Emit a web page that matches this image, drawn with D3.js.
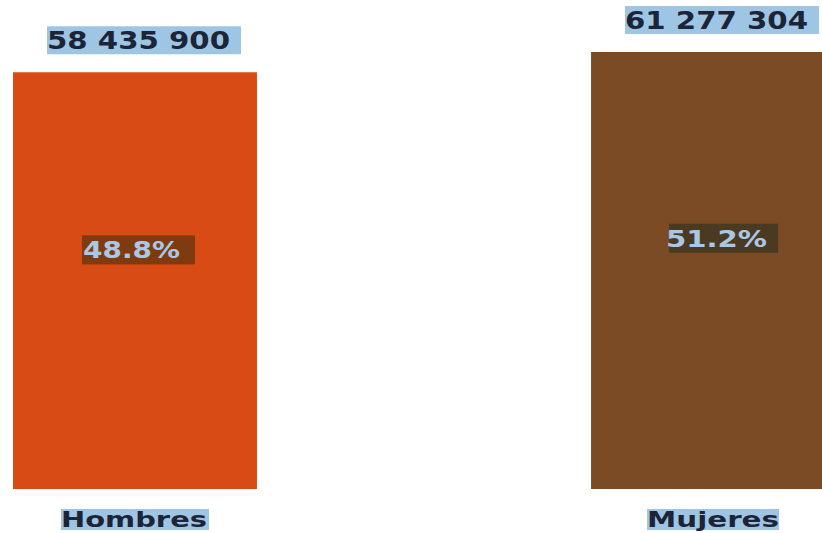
<!DOCTYPE html>
<html>
<head>
<meta charset="utf-8">
<script src="https://cdn.jsdelivr.net/npm/d3@7"></script>
<style>
  body { margin: 0; background: #fff; }
  svg { display: block; font-family: "DejaVu Sans", Verdana, sans-serif; }
</style>
</head>
<body>
<svg id="chart"></svg>
<script>
// data
var categories = ["Hombres", "Mujeres"];
var values = [58435900, 61277304];
var valueLabels = ["58 435 900", "61 277 304"];
var shares = ["48.8%", "51.2%"];
var barColors = ["#d94b14", "#7a4b25"];
var shareBoxColors = ["#7f3a10", "#4b3a22"];

var size = { width: 822, height: 533 };

var svg = d3.select("#chart")
    .attr("width", size.width)
    .attr("height", size.height);

var x = d3.scaleBand()
    .domain(categories)
    .range([13, 835])
    .paddingInner(0.578)
    .paddingOuter(0);

var y = d3.scaleLinear()
    .domain([0, d3.max(values)])
    .range([489, 52]);

var bw = x.bandwidth();

// bars
svg.selectAll(".bar")
    .data(values)
    .enter()
    .append("rect")
    .attr("class", "bar")
    .attr("x", (d, i) => x(categories[i]))
    .attr("y", d => y(d))
    .attr("width", bw)
    .attr("height", d => y(0) - y(d))
    .style("fill", (d, i) => barColors[i]);

// value labels above bars
var valG = svg.selectAll(".val")
    .data(values)
    .enter()
    .append("g")
    .attr("class", "val")
    .attr("transform", (d, i) => "translate(" + (x(categories[i]) + bw / 2 + 3) + "," + (y(d) - 32) + ")");

valG.append("rect")
    .attr("x", -91)
    .attr("y", -14)
    .attr("width", 194)
    .attr("height", 28)
    .style("fill", "#9fc5e4");

valG.append("text")
    .attr("x", -91)
    .attr("y", 9)
    .attr("textLength", 183)
    .attr("lengthAdjust", "spacingAndGlyphs")
    .style("font-size", "24px")
    .style("font-weight", "bold")
    .style("fill", "#1c2538")
    .text((d, i) => valueLabels[i]);

// share labels inside bars
var shG = svg.selectAll(".share")
    .data(values)
    .enter()
    .append("g")
    .attr("class", "share")
    .attr("transform", (d, i) => {
        var top = y(d), h = y(0) - y(d);
        return "translate(" + (x(categories[i]) + bw / 2) + "," + (top + h * 0.425) + ")";
    });

shG.append("rect")
    .attr("x", (d, i) => i ? -44 : -53)
    .attr("y", -14)
    .attr("width", (d, i) => i ? 109 : 113)
    .attr("height", 29)
    .style("fill", (d, i) => shareBoxColors[i]);

shG.append("text")
    .attr("x", (d, i) => i ? -47 : -52)
    .attr("y", 9)
    .attr("textLength", (d, i) => i ? 101 : 97)
    .attr("lengthAdjust", "spacingAndGlyphs")
    .style("font-size", "23px")
    .style("font-weight", "bold")
    .style("fill", "#a9c8e6")
    .text((d, i) => shares[i]);

// category labels
var catG = svg.selectAll(".cat")
    .data(categories)
    .enter()
    .append("g")
    .attr("class", "cat")
    .attr("transform", d => "translate(" + (x(d) + bw / 2) + ",519)");

catG.append("rect")
    .attr("x", (d, i) => i ? -66 : -74)
    .attr("y", -10)
    .attr("width", (d, i) => i ? 132 : 148)
    .attr("height", 21)
    .style("fill", "#9fc5e4");

catG.append("text")
    .attr("x", (d, i) => i ? -66 : -74)
    .attr("y", 8)
    .attr("textLength", (d, i) => i ? 132 : 146)
    .attr("lengthAdjust", "spacingAndGlyphs")
    .style("font-size", "22px")
    .style("font-weight", "bold")
    .style("fill", "#1c2538")
    .text(d => d);
</script>
</body>
</html>
